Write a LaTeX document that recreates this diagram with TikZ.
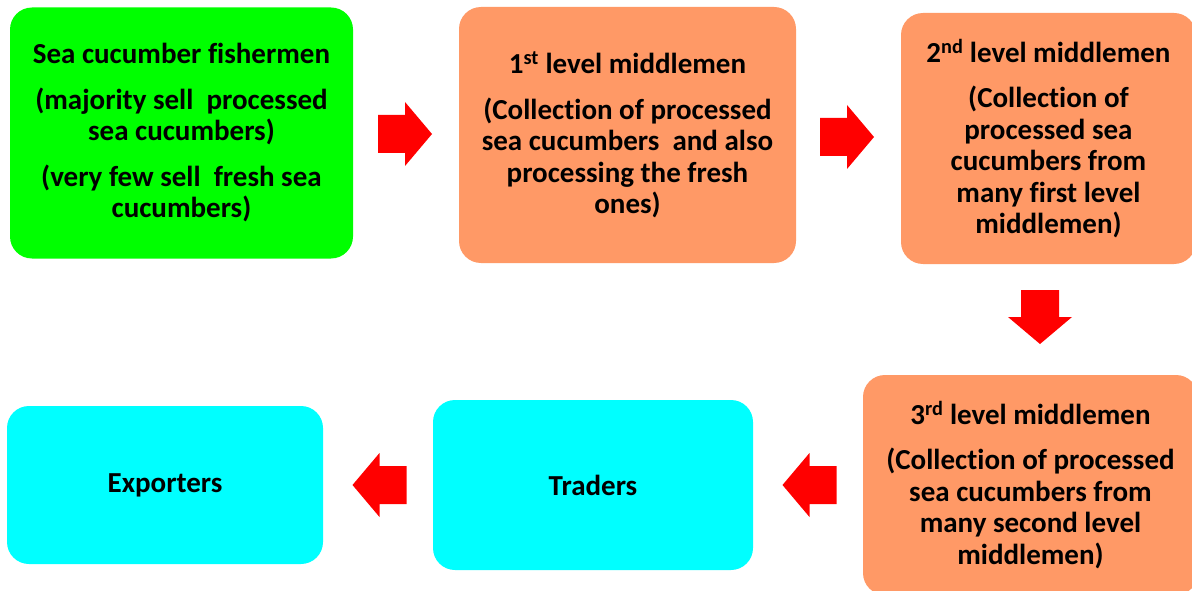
\documentclass[tikz,border=0pt]{standalone}
\usepackage{fontspec}
\setmainfont[Ligatures={NoCommon}]{Carlito}
\definecolor{boxgreen}{RGB}{0,255,0}
\definecolor{boxorange}{RGB}{255,153,102}
\definecolor{boxcyan}{RGB}{0,255,255}
\definecolor{arrowred}{RGB}{255,0,0}
\tikzset{
  box/.style={draw=none, rounded corners=22pt, align=center, inner sep=0pt,
    font=\bfseries\fontsize{29}{31.5}\selectfont, text=black},
  blockarrow/.pic={\fill[arrowred] (-27,-19) -- (0,-19) -- (0,-32) -- (27,0) -- (0,32) -- (0,19) -- (-27,19) -- cycle;}
}
\newcommand{\pgap}{\\[14pt]}
\begin{document}
\begin{tikzpicture}[x=1pt,y=-1pt]
\useasboundingbox (0,0) rectangle (1192,591);
\fill[white] (0,0) rectangle (1192,591);
\begin{scope}
\clip (0,0) rectangle (1192,591);
\node[box, fill=boxgreen, minimum width=343pt, minimum height=251pt] (fish) at (181.5,133)
  {Sea cucumber fishermen\pgap (majority sell\ \ processed\\ sea cucumbers)\pgap (very few sell\ \ fresh sea\\ cucumbers)};
\node[box, fill=boxorange, minimum width=337pt, minimum height=256pt] (mid1) at (627.5,135)
  {1\textsuperscript{st} level middlemen\pgap (Collection of processed\\ sea cucumbers\ \ and also\\ processing the fresh\\ ones)};
\node[box, fill=boxorange, minimum width=295pt, minimum height=251pt] (mid2) at (1048.5,138.5)
  {2\textsuperscript{nd} level middlemen\pgap (Collection of\\ processed sea\\ cucumbers from\\ many first level\\ middlemen)};
\node[box, fill=boxorange, minimum width=335pt, minimum height=220pt] (mid3) at (1030.5,485)
  {3\textsuperscript{rd} level middlemen\pgap (Collection of processed\\ sea cucumbers from\\ many second level\\ middlemen)};
\node[box, fill=boxcyan, minimum width=320pt, minimum height=170pt] (traders) at (593,485) {Traders};
\node[box, fill=boxcyan, minimum width=316pt, minimum height=158pt] (exporters) at (165,485) {\raisebox{-3pt}{Exporters}};
\end{scope}
\pic (a1) at (405,134) {blockarrow};
\pic (a2) at (847,137) {blockarrow};
\pic[rotate=-90] (a3) at (1040,317) {blockarrow};
\pic[rotate=180] (a4) at (809.5,485) {blockarrow};
\pic[rotate=180] (a5) at (379.5,485) {blockarrow};
\end{tikzpicture}
\end{document}
